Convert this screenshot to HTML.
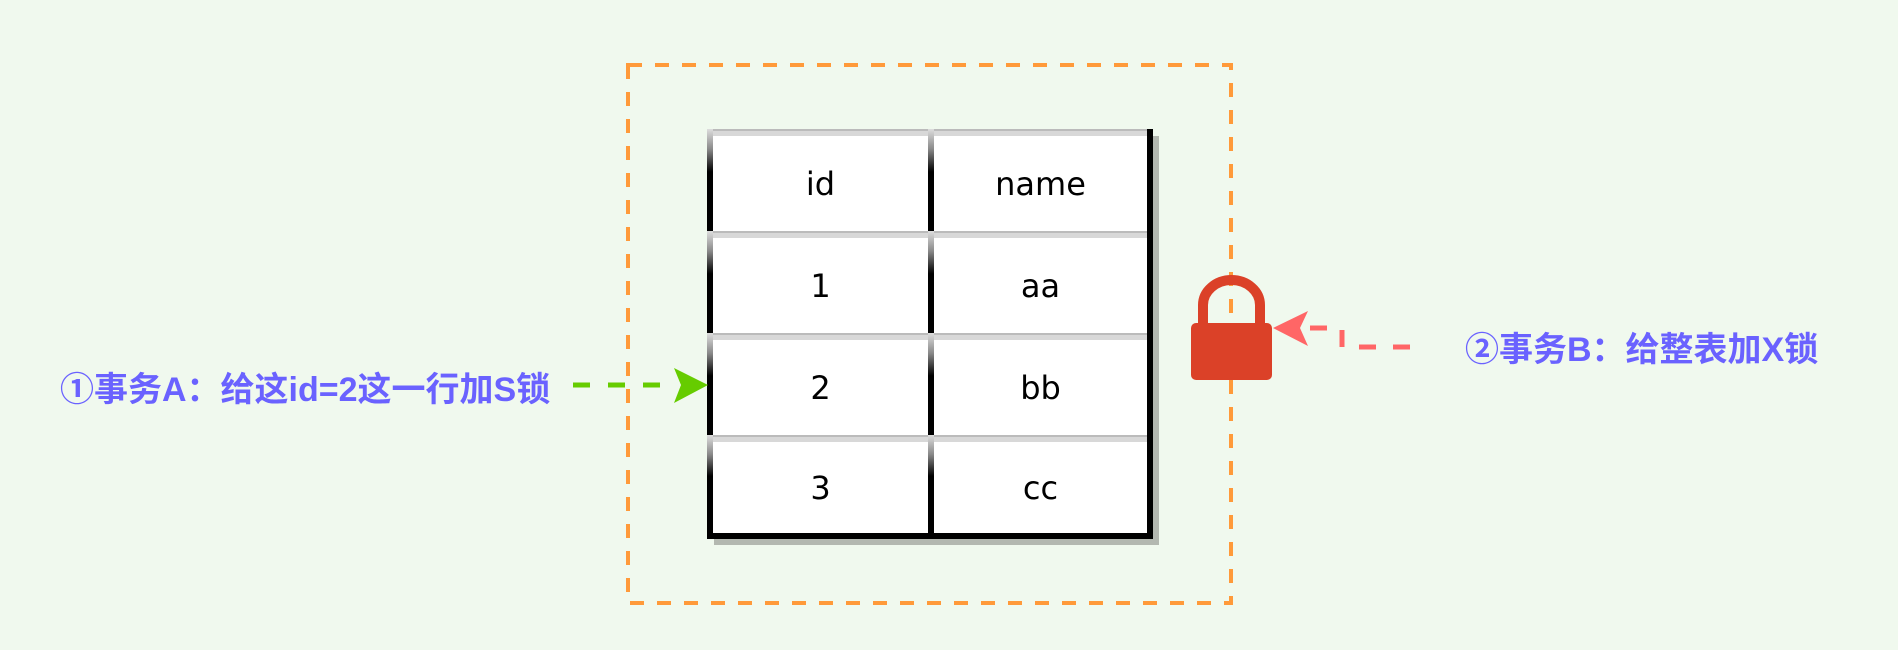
<!DOCTYPE html>
<html><head><meta charset="utf-8"><style>
html,body{margin:0;padding:0;}
body{width:1898px;height:650px;background:#f0f9ee;position:relative;overflow:hidden;font-family:"DejaVu Sans","Liberation Sans",sans-serif;}
.cell{position:absolute;background:#fff;box-sizing:border-box;display:flex;align-items:center;justify-content:center;font-size:32px;color:#000;padding-top:6px;
border-top:2px solid #bbb;box-shadow:inset 0 5px 0 #d8d8d8;}
.cell:before{content:"";position:absolute;left:-6px;top:-2px;width:6px;bottom:0;background:linear-gradient(#ddd 0%,#888 20%,#000 42%,#000 100%);}
.lbl{position:absolute;font-family:"Liberation Sans","Noto Sans CJK SC",sans-serif;font-weight:bold;color:#6a62ff;font-size:34px;white-space:nowrap;line-height:1;}
</style></head><body>
<svg width="1898" height="650" style="position:absolute;left:0;top:0">
<rect x="628" y="65" width="603" height="538" fill="none" stroke="#ff9a3a" stroke-width="4" stroke-dasharray="14 13"/>
<rect x="714" y="136" width="445" height="409" fill="#b3b8b0"/>
</svg>
<div style="position:absolute;left:707px;top:129px;width:446px;height:410px;background:#000"></div>
<div class="cell" style="left:713px;top:129px;width:215px;height:102px">id</div>
<div class="cell" style="left:934px;top:129px;width:213px;height:102px">name</div>
<div class="cell" style="left:713px;top:231px;width:215px;height:102px">1</div>
<div class="cell" style="left:934px;top:231px;width:213px;height:102px">aa</div>
<div class="cell" style="left:713px;top:333px;width:215px;height:102px">2</div>
<div class="cell" style="left:934px;top:333px;width:213px;height:102px">bb</div>
<div class="cell" style="left:713px;top:435px;width:215px;height:98px">3</div>
<div class="cell" style="left:934px;top:435px;width:213px;height:98px">cc</div>
<svg width="1898" height="650" style="position:absolute;left:0;top:0">
<line x1="573" y1="385" x2="675" y2="385" stroke="#66cc00" stroke-width="5" stroke-dasharray="17 18"/>
<polygon points="708,385 674,368 681,385 674,403" fill="#66cc00"/>
<path d="M1203,323 V305 A28.5,25 0 0 1 1260,305 V323" fill="none" stroke="#db4128" stroke-width="10"/>
<rect x="1191" y="323" width="81" height="57" rx="5" fill="#db4128"/>
<path d="M1310,328 H1342 V347 H1415" fill="none" stroke="#ff6666" stroke-width="5" stroke-dasharray="17 17"/>
<polygon points="1273,328 1308,311 1300,328 1308,346" fill="#ff6666"/>
</svg>
<div class="lbl" style="left:60px;top:373px">①事务A：给这id=2这一行加S锁</div>
<div class="lbl" style="left:1465px;top:333px">②事务B：给整表加X锁</div>
</body></html>
